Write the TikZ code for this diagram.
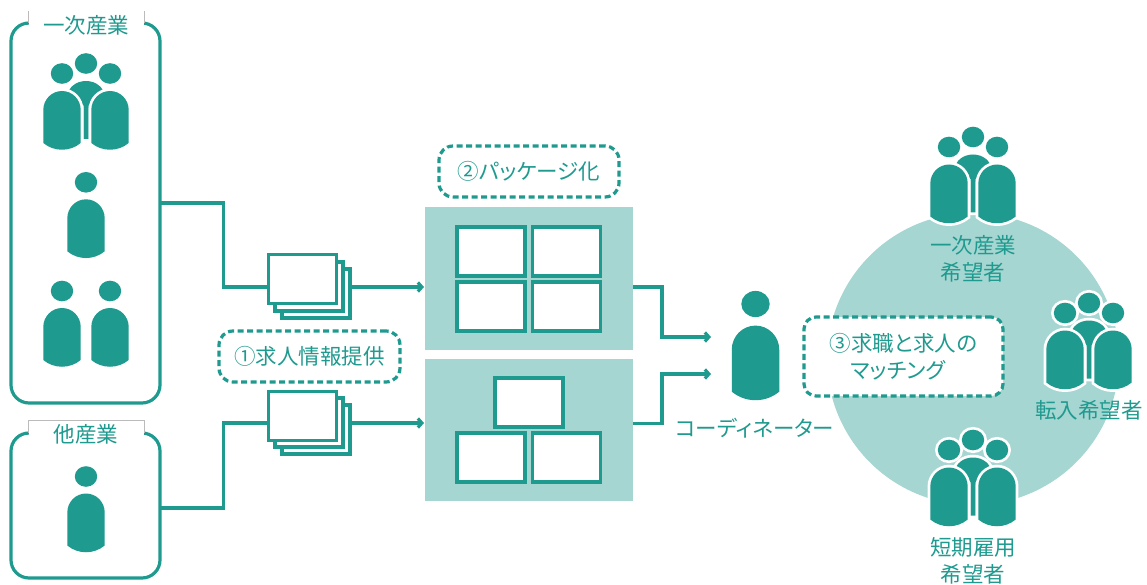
\documentclass[tikz,border=0pt]{standalone}
\usepackage{fontspec}
\setmainfont[RawFeature={+palt}]{Noto Sans CJK JP}
\usepackage{tikz}
\usetikzlibrary{arrows.meta, positioning, shapes}
\definecolor{teal1}{HTML}{1F9A8F}
\definecolor{teal2}{HTML}{A6D6D2}
\definecolor{rim}{HTML}{BBBBBB}
\tikzset{
	every pic/.style={transform shape},
	manfill/.style={fill=teal1, preaction={draw=white, line width=5.5}},
	manhead/.pic={\path[manfill] (0,0) ellipse [x radius=11.2, y radius=10.3];},
	manbody/.pic={\path[manfill] (-18.7,52) -- (-18.7,19) arc [start angle=180, end angle=360, x radius=18.7, y radius=19] -- (18.7,52) .. controls (8,61) and (-8,61) .. cycle;},
	manone/.pic={\pic at (0,0) {manhead}; \pic at (0,17) {manbody};},
	mantwo/.pic={\pic at (-24,0) {manone}; \pic at (24,0) {manone};},
	manthree/.pic={
		\path[manfill] (-2.5,75.5) -- (-2.5,42) -- (-18,42) -- (-18,32) arc [start angle=180, end angle=360, x radius=18, y radius=14.5] -- (18,42) -- (2.5,42) -- (2.5,75.5) -- cycle;
		\pic at (-24,27.5) {manbody}; \pic at (24,27.5) {manbody};
		\pic at (0,0) {manhead}; \pic at (-24,10) {manhead}; \pic at (24,10) {manhead};
	},
	txt/.style={text=teal1, font=\fontsize{21.5}{27.5}\selectfont, align=center, inner sep=0},
	frame/.style={draw=teal1, line width=3.2, fill=white, rounded corners=18, minimum width=149, inner sep=0, outer sep=0},
	tag/.style={txt, fill=white, minimum width=115, minimum height=28},
	panel/.style={fill=teal2, minimum width=208, minimum height=142, inner sep=0, outer sep=0},
	card/.style={draw=teal1, line width=3.2, fill=white, minimum width=68, minimum height=49, inner sep=0, outer sep=0},
	note/.style={txt, draw=teal1, line width=3.2, dash pattern=on 6pt off 3.5pt, rounded corners=14, inner sep=0},
	wire/.style={draw=teal1, line width=3.2},
	tip/.style={wire, -{Straight Barb[length=4pt,width=9pt]}, shorten >=1pt},
}
\begin{document}
\begin{tikzpicture}[x=1pt, y=-1pt]
\useasboundingbox (0,0) rectangle (1147,585);

\node (ring) [fill=teal2, circle, minimum size=292, inner sep=0] at (973,359) {};

\node (ind1) [frame, minimum height=380] at (85.5,213) {};
\node (ind2) [frame, minimum height=145] at (85.5,505.5) {};
\node (tag1) [tag] at (86,25) {一次産業};
\node (tag2) [tag] at (86,434) {他産業};
\draw[rim] (tag1.north west) -- ++(0,12);
\draw[rim] (tag1.north east) -- ++(0,12);
\draw[rim] ([yshift=-13]tag2.north west) -- (tag2.north west) -- (tag2.north east) -- ([yshift=-13]tag2.north east);
\pic at (86,63.5) {manthree};
\pic at (86,182.3) {manone};
\pic at (86,291) {mantwo};
\pic at (86,476.5) {manone};

\node (sheet3) [card] at (316,293.5) {};
\node (sheet2) [card] at (309,286.5) {};
\node (sheet1) [card] at (302.5,279) {};
\node (sheet6) [card] at (316,429.5) {};
\node (sheet5) [card] at (309,422.5) {};
\node (sheet4) [card] at (302.5,416) {};

\node (pack1) [panel] at (529,278.5) {};
\node (pack2) [panel] at (529,430) {};
\node (c1) [card] at (491,251.5) {};
\node (c2) [card] at (566.5,251.5) {};
\node (c3) [card] at (491,306.5) {};
\node (c4) [card] at (566.5,306.5) {};
\node (c5) [card] at (529,402.5) {};
\node (c6) [card] at (491,457.5) {};
\node (c7) [card] at (566.5,457.5) {};

\node (step1) [note, minimum width=181, minimum height=51] at (309.5,356.5) {①求人情報提供};
\node (step2) [note, minimum width=180, minimum height=51] at (529,171.5) {②パッケージ化};
\node (step3) [note, fill=white, rounded corners=12, minimum width=199, minimum height=79] at (903.5,356.5) {③求職と求人の\\マッチング\hspace*{11pt}};

\coordinate (e1) at (223.5,203);
\coordinate (e2) at (223.5,287);
\coordinate (e3) at (223.5,508);
\coordinate (e4) at (223.5,423);
\coordinate (e5) at (662,287);
\coordinate (e6) at (712,337);
\coordinate (e7) at (662,423.5);
\coordinate (e8) at (712,374);
\draw[wire] (ind1.east |- e1) -- (e1) -- (e2) -- (sheet1.west |- e2);
\draw[wire] (ind2.east |- e3) -- (e3) -- (e4) -- (sheet4.west |- e4);
\draw[tip] (sheet3.east |- e2) -- (pack1.west |- e2);
\draw[tip] (sheet6.east |- e4) -- (pack2.west |- e4);
\draw[tip] (pack1.east |- e5) -- (e5) -- (e5 |- e6) -- (e6);
\draw[tip] (pack2.east |- e7) -- (e7) -- (e7 |- e8) -- (e8);

\pic[scale=1.27] at (755.5,304) {manone};
\node (coord) [txt] at (755,428) {コーディネーター};

\pic at (973,137) {manthree};
\pic at (1089,303) {manthree};
\pic at (973,440) {manthree};
\node (seek1) [txt] at (973,259) {一次産業\\希望者};
\node (seek2) [txt] at (1089,410) {転入希望者};
\node (seek3) [txt] at (973,561) {短期雇用\\希望者};
\end{tikzpicture}
\end{document}
